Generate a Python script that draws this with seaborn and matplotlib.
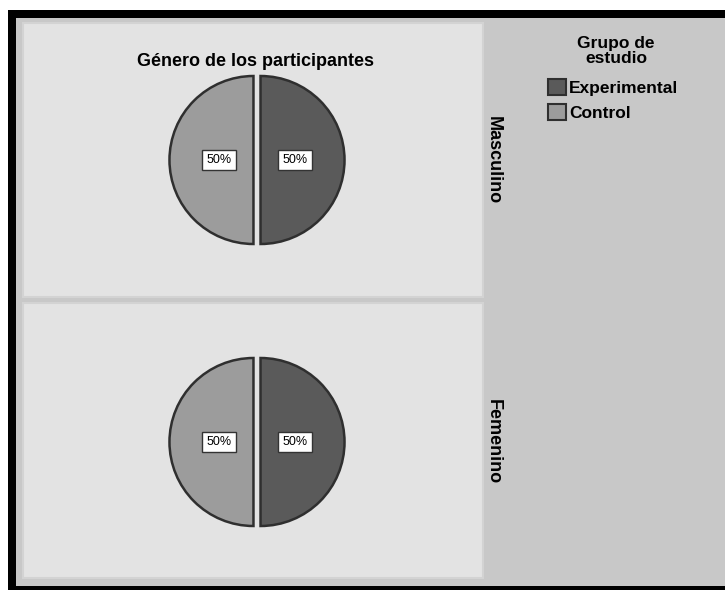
import pandas as pd
import matplotlib.pyplot as plt
from matplotlib.patches import Patch, Rectangle
import seaborn as sns

# datos del gráfico
generos = ["Masculino", "Femenino"]
grupos = ["Experimental", "Control"]
pct_masculino = [50, 50]
pct_femenino = [50, 50]

titulo = "Género de los participantes"
titulo_leyenda = "Grupo de\nestudio"

df = pd.DataFrame({
    "genero": [g for g in generos for _ in grupos],
    "grupo": grupos * len(generos),
    "porcentaje": pct_masculino + pct_femenino,
})

sns.set_theme(style="white")
plt.rcParams["font.family"] = ["Liberation Sans", "DejaVu Sans"]
plt.rcParams["text.color"] = "black"

colores = dict(zip(grupos, ["#5a5a5a", "#9c9c9c"]))
EDGE = "#2f2f2f"


def draw_pie(data, **kw):
    ax = plt.gca()
    ax.pie(
        data["porcentaje"],
        colors=[colores[c] for c in data["grupo"]],
        explode=[0.042] * len(data),
        startangle=90,
        counterclock=False,
        autopct="%1.0f%%",
        pctdistance=0.41,
        frame=True,
        wedgeprops=dict(edgecolor=EDGE, linewidth=1.8),
        textprops=dict(fontsize=9, color="black",
                       bbox=dict(boxstyle="square,pad=0.33", facecolor="white",
                                 edgecolor="#333333", linewidth=1.0)),
    )


g = sns.FacetGrid(df, row="genero", row_order=generos, sharex=False, sharey=False,
                  height=2.9, aspect=1.6, despine=False)
g.map_dataframe(draw_pie)

fig = g.figure
fig.set_size_inches(7.25, 5.9)
fig.set_facecolor("white")
W, H = 725, 590

# marco negro y fondo gris
fig.patches.append(Rectangle((8 / W, 0), 1, (H - 10) / H, transform=fig.transFigure,
                             facecolor="black", edgecolor="none", zorder=-3))
fig.patches.append(Rectangle((16 / W, 4 / H), 1, (586 - 18) / H, transform=fig.transFigure,
                             facecolor="#c8c8c8", edgecolor="none", zorder=-2))

# paneles: (top, bottom, centro y del pastel) en pixeles
paneles = [(23, 297, 160), (303, 578, 442)]
R = 84.0
cx = 257
for ax, (top, bot, cy) in zip(g.axes.flat, paneles):
    ax.set_position([23 / W, 1 - bot / H, 460 / W, (bot - top) / H])
    ax.set_aspect("auto")
    ax.set_xlim(-(cx - 23) / R, (483 - cx) / R)
    ax.set_ylim(-(bot - cy) / R, (cy - top) / R)
    ax.set_facecolor("#e3e3e3")
    ax.set_xticks([])
    ax.set_yticks([])
    ax.set_title("")
    ax.set_xlabel("")
    ax.set_ylabel("")
    for s in ax.spines.values():
        s.set_color("#d3d3d3")
        s.set_linewidth(1.5)

for gen, (top, bot, cy) in zip(generos, paneles):
    fig.text(493 / W, 1 - cy / H, gen, rotation=270, ha="center", va="center",
             fontsize=13, fontweight="bold", color="black")

fig.text(256 / W, 1 - 62 / H, titulo, ha="center", va="center",
         fontsize=13, fontweight="bold", color="black")

# leyenda: título aparte para controlar el espaciado
fig.text(616 / W, 1 - 51 / H, titulo_leyenda, ha="center", va="center",
         multialignment="center", linespacing=1.0,
         fontsize=12.5, fontweight="bold", color="black")

handles = [Patch(facecolor=colores[c], edgecolor=EDGE, linewidth=1.5, label=c) for c in grupos]
leg = fig.legend(handles=handles, loc="upper left",
                 bbox_to_anchor=(548 / W, 1 - 79 / H), frameon=False,
                 prop=dict(size=12.5, weight="bold"),
                 handlelength=1.05, handleheight=1.05, handletextpad=0.15,
                 labelspacing=0.45, borderpad=0, borderaxespad=0)

fig.savefig("out.png", dpi=100)
